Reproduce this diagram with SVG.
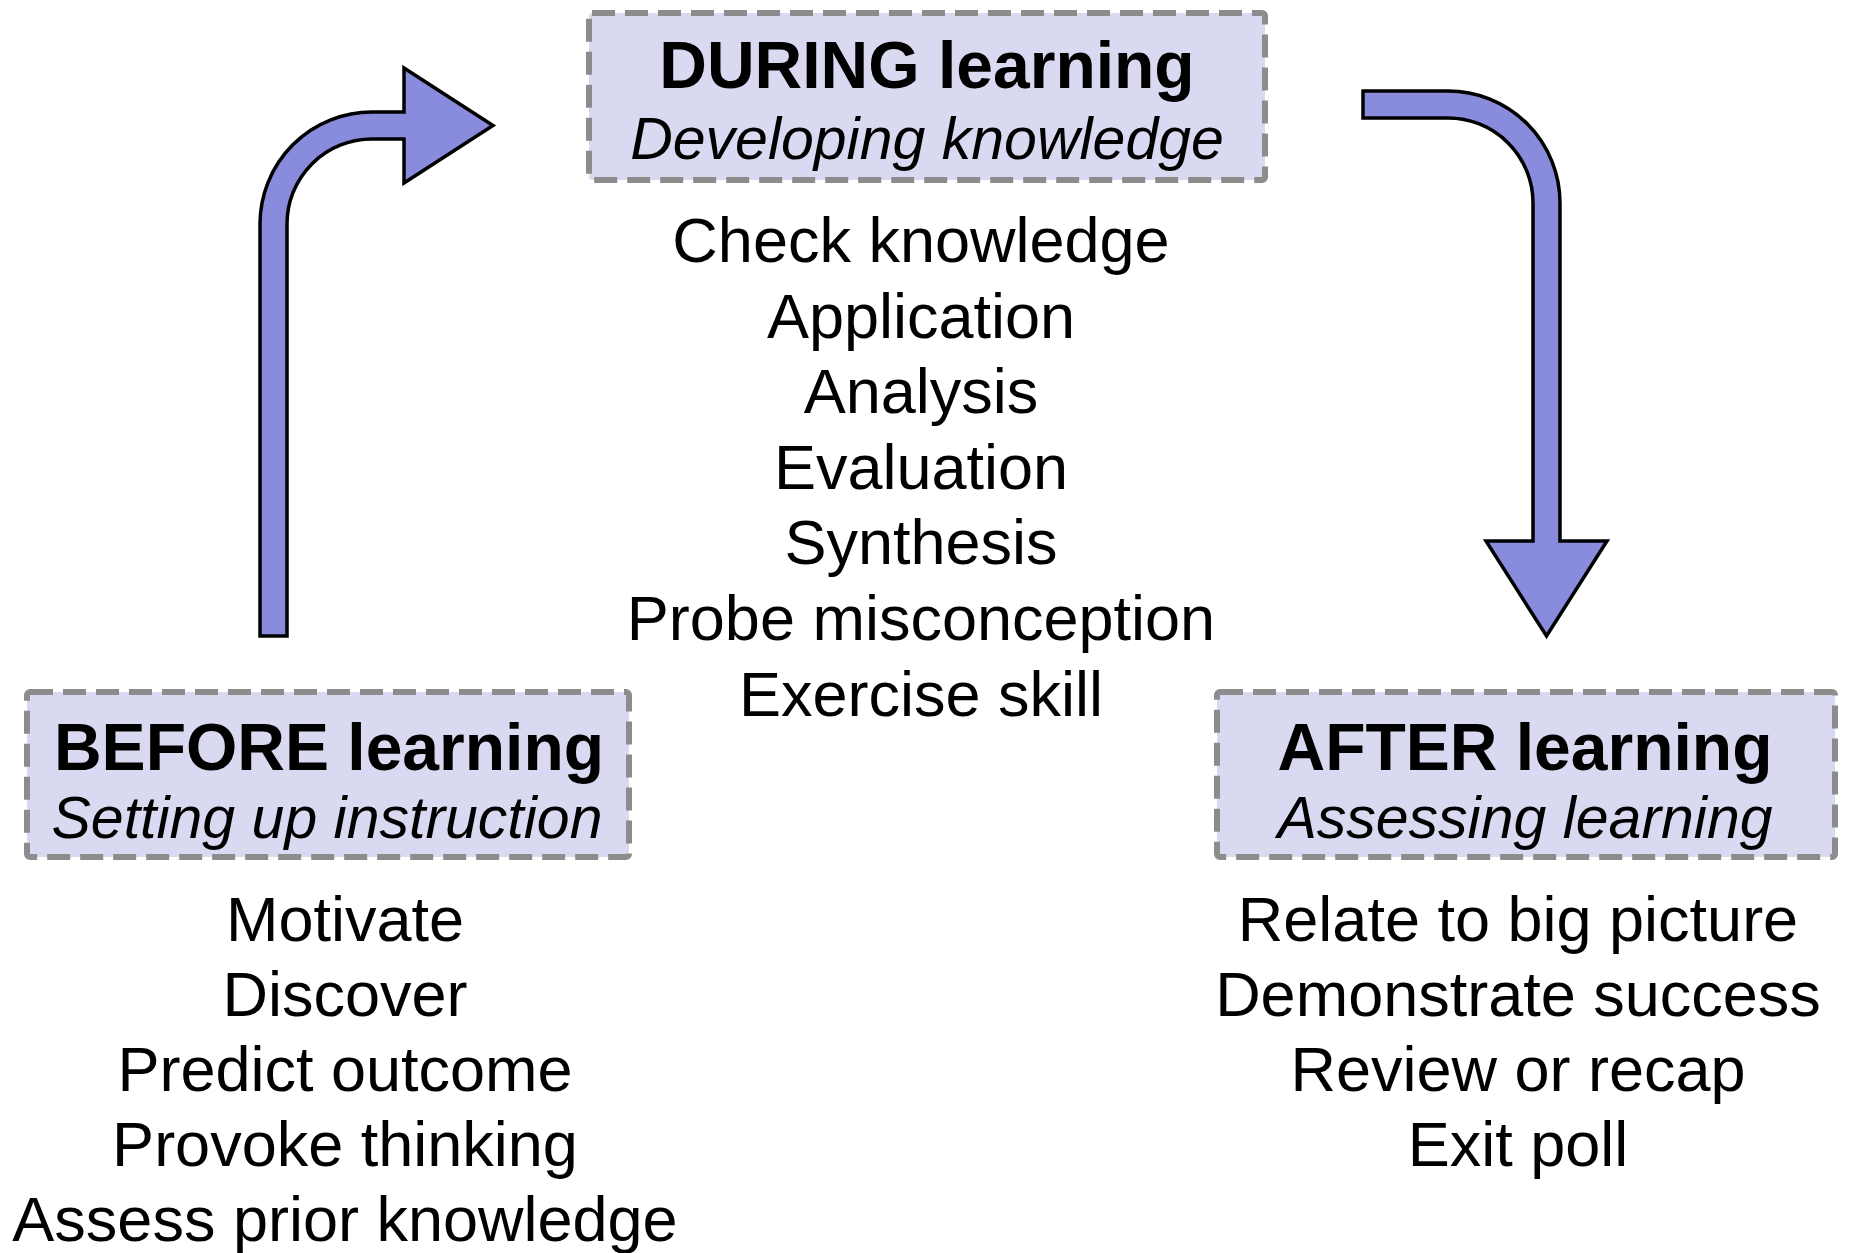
<svg xmlns="http://www.w3.org/2000/svg" width="1851" height="1253" viewBox="0 0 1851 1253">
  <style>
    .box { fill: #d9d9f1; stroke: #8c8c8c; stroke-width: 6; stroke-dasharray: 23 10; }
    .arrow { fill: #898bdc; stroke: #000; stroke-width: 3.5; stroke-linejoin: miter; }
    text { font-family: "Liberation Sans", Arial, sans-serif; fill: #000; text-anchor: middle; }
    .title { font-size: 66px; font-weight: bold; }
    .sub { font-size: 59px; font-style: italic; }
    .item { font-size: 63px; }
  </style>
  <rect width="1851" height="1253" fill="#fff"/>

  <!-- connectors: curved block arrows between phases -->
  <g id="connectors">
    <path id="before-to-during" class="arrow" d="M260,636 L260,224 A112,112 0 0 1 372,112 L404,112 L404,68 L493,125.5 L404,183 L404,139 L372,139 A85,85 0 0 0 287,224 L287,636 Z"/>
    <path id="during-to-after" class="arrow" d="M1363,91 L1448,91 A112,112 0 0 1 1560,203 L1560,541 L1607,541 L1546.5,636 L1486,541 L1533,541 L1533,203 A85,85 0 0 0 1448,118 L1363,118 Z"/>
  </g>

  <!-- DURING phase -->
  <g id="during">
    <rect class="box" x="589" y="13" width="676" height="167" rx="3"/>
    <text class="title" x="927" y="88">DURING learning</text>
    <text class="sub" x="927" y="159">Developing knowledge</text>
    <text class="item" x="921" y="262">Check knowledge</text>
    <text class="item" x="921" y="338">Application</text>
    <text class="item" x="921" y="413">Analysis</text>
    <text class="item" x="921" y="489">Evaluation</text>
    <text class="item" x="921" y="564">Synthesis</text>
    <text class="item" x="921" y="640">Probe misconception</text>
    <text class="item" x="921" y="716">Exercise skill</text>
  </g>

  <!-- BEFORE phase -->
  <g id="before">
    <rect class="box" x="27" y="692" width="602" height="165" rx="3"/>
    <text class="title" x="329" y="770">BEFORE learning</text>
    <text class="sub" x="327" y="838">Setting up instruction</text>
    <text class="item" x="345" y="941">Motivate</text>
    <text class="item" x="345" y="1016">Discover</text>
    <text class="item" x="345" y="1091">Predict outcome</text>
    <text class="item" x="345" y="1166">Provoke thinking</text>
    <text class="item" x="345" y="1241">Assess prior knowledge</text>
  </g>

  <!-- AFTER phase -->
  <g id="after">
    <rect class="box" x="1217" y="692" width="618" height="165" rx="3"/>
    <text class="title" x="1525" y="770">AFTER learning</text>
    <text class="sub" x="1525" y="838">Assessing learning</text>
    <text class="item" x="1518" y="941">Relate to big picture</text>
    <text class="item" x="1518" y="1016">Demonstrate success</text>
    <text class="item" x="1518" y="1091">Review or recap</text>
    <text class="item" x="1518" y="1166">Exit poll</text>
  </g>
</svg>
